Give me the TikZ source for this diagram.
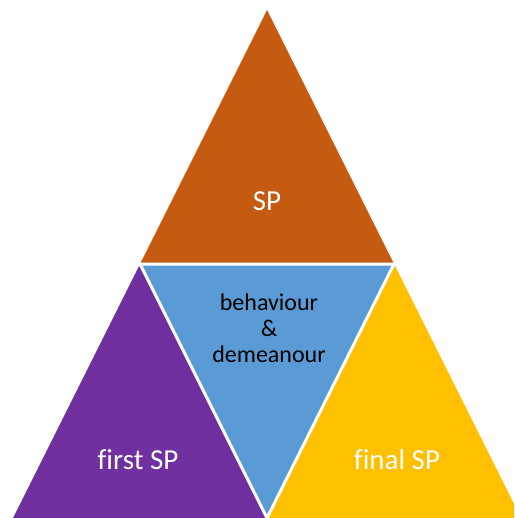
\documentclass[tikz,border=0pt]{standalone}
\usepackage{fontspec}
\setmainfont{Carlito}[Ligatures=CommonOff]
\usetikzlibrary{positioning}

\definecolor{spOrange}{HTML}{C55A11}
\definecolor{spBlue}{HTML}{5B9BD5}
\definecolor{spPurple}{HTML}{7030A0}
\definecolor{spYellow}{HTML}{FFC000}

\begin{document}
\begin{tikzpicture}[x=1pt, y=-1pt,
  label big/.style={text=white, font=\fontsize{29}{32}\selectfont},
  label small/.style={text=black, align=center, font=\fontsize{24}{26}\selectfont}]
\useasboundingbox (0,0) rectangle (514,518);
\clip (0,0) rectangle (514,518);
% four triangles
\fill[spOrange] (267,10) -- (394,264) -- (140,264) -- cycle;
\fill[spPurple] (140,264) -- (267,518) -- (13,518) -- cycle;
\fill[spYellow] (394,264) -- (521,518) -- (267,518) -- cycle;
\fill[spBlue] (140,264) -- (394,264) -- (267,518) -- cycle;
% white seams between them
\draw[white, line width=3pt, line join=miter] (140,264) -- (394,264) -- (267,518) -- cycle;
% labels
\node[label big] (sp) at (267,201) {SP};
\node[label small] (mid) at (269,328) {behaviour\\\&\\demeanour};
\node[label big] (first) at (138,460) {first SP};
\node[label big] (final) at (397,460) {final SP};
\end{tikzpicture}
\end{document}
